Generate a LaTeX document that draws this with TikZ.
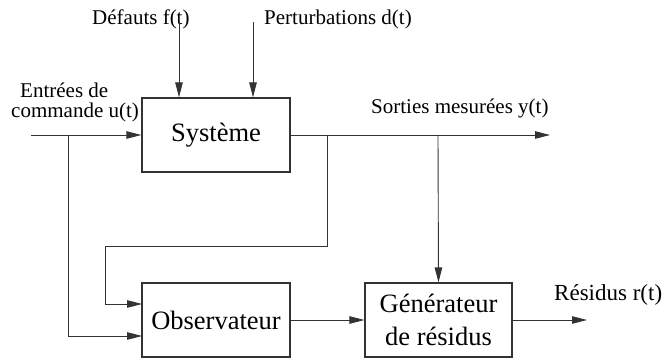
\documentclass[tikz,border=0pt]{standalone}
\usepackage{fontspec}
\setmainfont{Liberation Serif}
\usetikzlibrary{arrows.meta}
\begin{document}
\begin{tikzpicture}[x=1pt,y=-1pt,
  conn/.style={draw=black!80,line width=0.9pt},
  arr/.style={conn,-{Triangle[length=15pt,width=7.5pt]}},
  blockbox/.style={draw=black!80,line width=1.3pt,minimum height=74pt,inner sep=0pt,
    font=\fontsize{26.5}{33}\selectfont,align=center},
  lbl/.style={inner sep=0pt,anchor=base west,font=\fontsize{21}{24}\selectfont}]
\useasboundingbox (0,0) rectangle (662,358);
% blocks
\node[blockbox,minimum width=148pt] (sys) at (216,135) {Système};
\node[blockbox,minimum width=148pt] (obs) at (216,320) {Observateur};
\node[blockbox,minimum width=147pt] (gen) at (438.5,320) {Générateur\\de résidus};
% labels
\node[lbl] (ldef) at (92,25) {Défauts f(t)};
\node[lbl] (lper) at (264,25) {Perturbations d(t)};
\node[lbl] (lin1) at (20,98) {Entrées de};
\node[lbl] (lin2) at (11,118) {commande u(t)};
\node[lbl] (lout) at (371,114) {Sorties mesurées y(t)};
\node[lbl,font=\fontsize{23}{26}\selectfont] (lres) at (554,301) {Résidus r(t)};
% coordinates
\coordinate (in) at (31,135);
\coordinate (b1) at (68,135);
\coordinate (f) at (179,22);
\coordinate (p) at (253,22);
\coordinate (b2) at (327,135);
\coordinate (b3) at (438,135);
\coordinate (yend) at (550,135);
\coordinate (c1) at (327,246);
\coordinate (c2) at (105,246);
\coordinate (o1) at (142,304);
\coordinate (o2) at (142,336);
\coordinate (rend) at (587,320);
% connectors
\draw[arr] (in) -- (sys.west);
\draw[arr] (f) -- (f |- sys.north);
\draw[arr] (p) -- (p |- sys.north);
\draw[arr] (sys.east) -- (yend);
\draw[arr] (b1) |- (o2);
\draw[arr] (b2) -- (c1) -- (c2) |- (o1);
\draw[arr] (b3) -- (gen.north);
\draw[arr] (obs.east) -- (gen.west);
\draw[arr] (gen.east) -- (rend);
\end{tikzpicture}
\end{document}
